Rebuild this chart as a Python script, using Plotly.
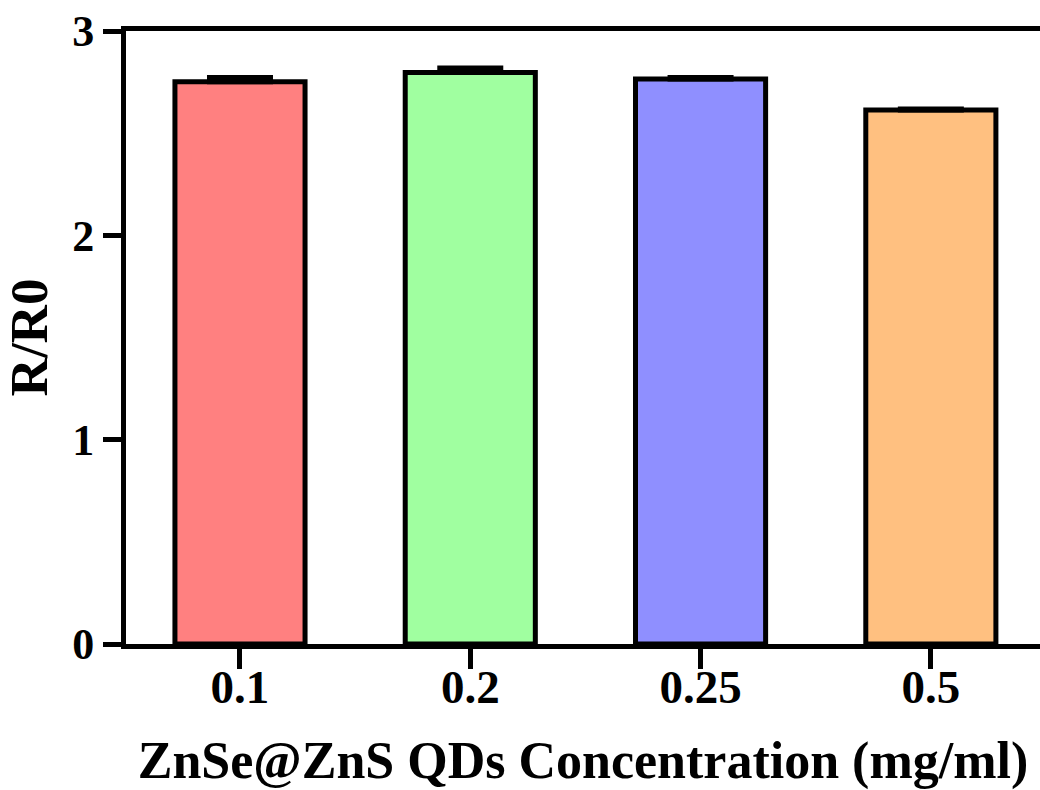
import plotly.graph_objects as go

categories = ["0.1", "0.2", "0.25", "0.5"]
values = [2.752, 2.797, 2.765, 2.613]
errors = [0.02, 0.022, 0.008, 0.005]
colors = ["#FF8080", "#A0FFA0", "#8F8FFF", "#FFC080"]
y_ticks = [0, 1, 2, 3]

FONT = "Liberation Serif, Times New Roman, serif"

fig = go.Figure()
fig.add_trace(go.Bar(
    x=categories, y=values, width=0.565,
    marker=dict(color=colors, line=dict(color="black", width=5)),
    error_y=dict(type="data", array=errors, arrayminus=[0]*len(errors), symmetric=False,
                 color="black", thickness=5, width=33),
))

fig.update_layout(
    width=1040, height=790,
    margin=dict(l=126, r=0, t=31, b=146),
    plot_bgcolor="white", paper_bgcolor="white",
    showlegend=False,
    font=dict(family=FONT, color="black"),
    xaxis=dict(
        type="category", range=[-0.495, 3.474],
        showline=True, linecolor="black", linewidth=5, mirror=True,
        ticks="outside", ticklen=20, tickwidth=5, tickcolor="black",
        ticklabelstandoff=-22,
        tickfont=dict(family=FONT, size=47, color="black", weight="bold"),
        title=dict(text="<b>ZnSe@ZnS QDs Concentration (mg/ml)</b>",
                   font=dict(family=FONT, size=52, color="black"), standoff=34),
        showgrid=False, zeroline=False,
    ),
    yaxis=dict(
        range=[0, 3], tickvals=y_ticks,
        showline=True, linecolor="black", linewidth=5,
        ticks="outside", ticklen=18, tickwidth=5, tickcolor="black",
        tickfont=dict(family=FONT, size=44, color="black", weight="bold"),
        title=dict(text="<b>R/R0</b>", font=dict(family=FONT, size=53, color="black"), standoff=16),
        showgrid=False, zeroline=False,
    ),
)

fig.write_html("out.html")
